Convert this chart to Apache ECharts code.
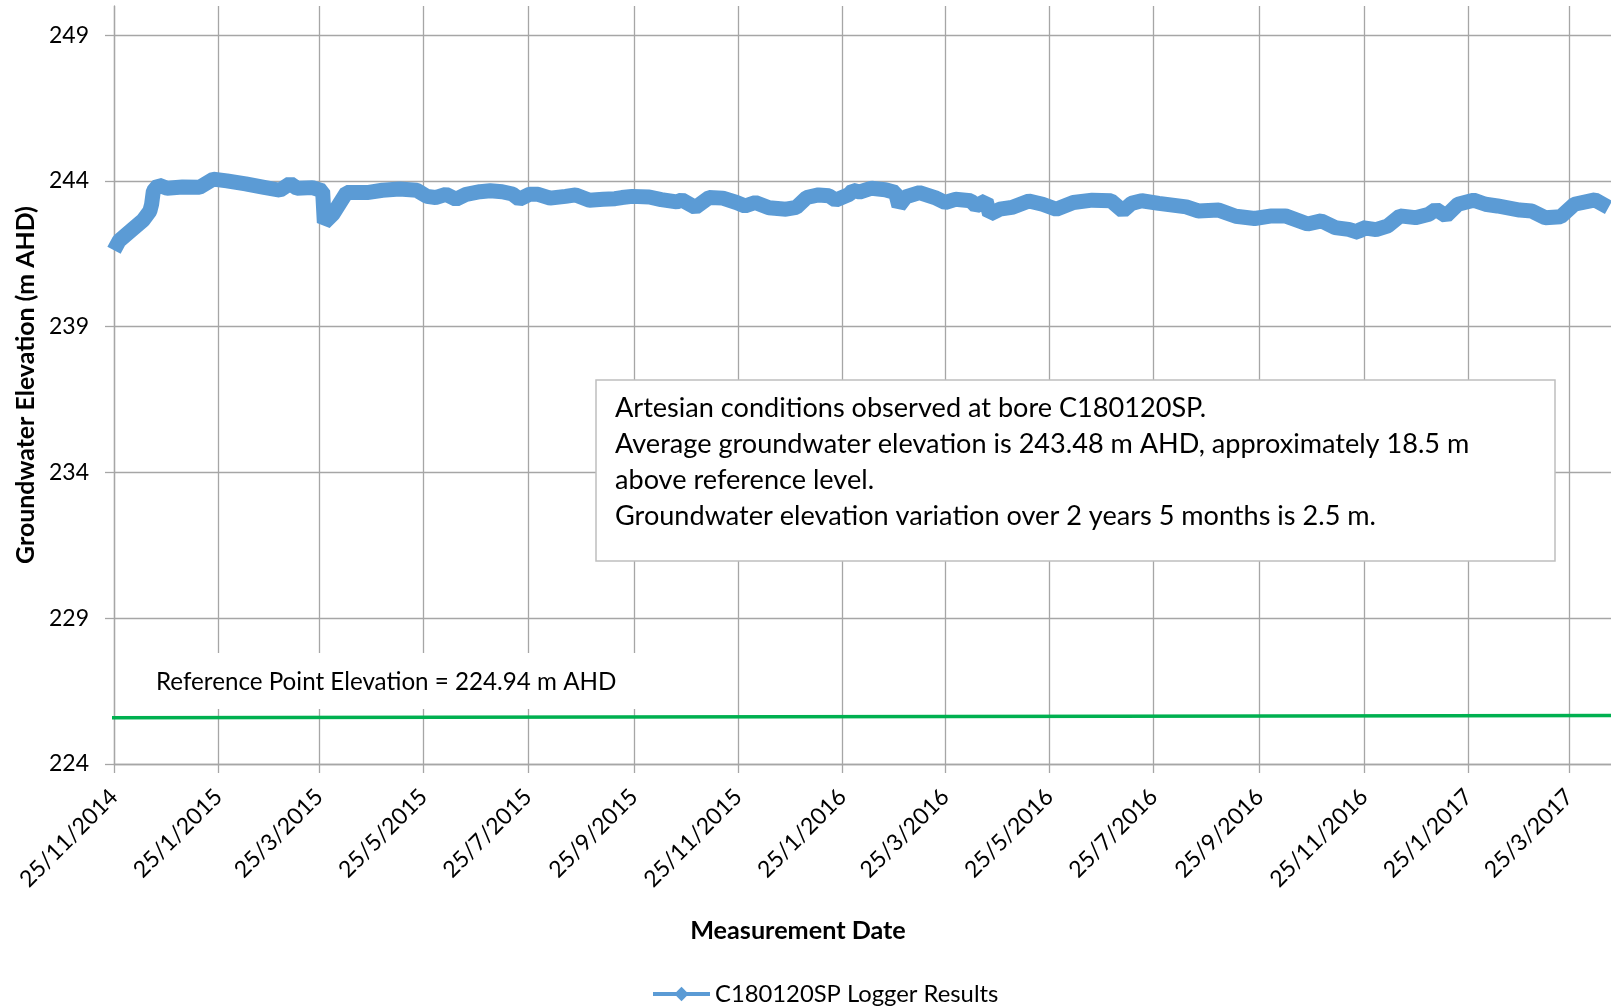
<!DOCTYPE html>
<html><head><meta charset="utf-8">
<script src="https://cdn.jsdelivr.net/npm/echarts@6/dist/echarts.min.js"></script>
<style>html,body{margin:0;padding:0;background:#fff}#c{width:1611px;height:1007px}</style>
</head><body><div id="c"></div>
<script>
const tickDates = ['2014-11-25','2015-01-25','2015-03-25','2015-05-25','2015-07-25','2015-09-25','2015-11-25','2016-01-25','2016-03-25','2016-05-25','2016-07-25','2016-09-25','2016-11-25','2017-01-25','2017-03-25'];
const yTicks = [224, 229, 234, 239, 244, 249];

const loggerDates = ['2014-11-25','2014-11-28','2014-12-06','2014-12-12','2014-12-16','2014-12-17','2014-12-18','2014-12-21','2014-12-26','2015-01-04','2015-01-14','2015-01-22','2015-01-30','2015-02-10','2015-02-20','2015-03-02','2015-03-08','2015-03-12','2015-03-21','2015-03-27','2015-03-28','2015-04-02','2015-04-10','2015-04-22','2015-05-01','2015-05-11','2015-05-21','2015-05-27','2015-06-01','2015-06-07','2015-06-13','2015-06-19','2015-06-27','2015-07-03','2015-07-10','2015-07-16','2015-07-20','2015-07-26','2015-07-31','2015-08-07','2015-08-16','2015-08-22','2015-08-30','2015-09-07','2015-09-14','2015-09-18','2015-09-24','2015-10-04','2015-10-11','2015-10-20','2015-10-23','2015-10-31','2015-11-08','2015-11-16','2015-11-24','2015-11-29','2015-12-05','2015-12-13','2015-12-23','2015-12-29','2016-01-04','2016-01-11','2016-01-17','2016-01-21','2016-01-29','2016-01-31','2016-02-04','2016-02-11','2016-02-19','2016-02-25','2016-02-27','2016-03-02','2016-03-10','2016-03-19','2016-03-25','2016-03-31','2016-04-09','2016-04-12','2016-04-18','2016-04-20','2016-04-26','2016-05-03','2016-05-13','2016-05-21','2016-05-29','2016-06-08','2016-06-19','2016-06-30','2016-07-07','2016-07-12','2016-07-18','2016-07-28','2016-08-13','2016-08-20','2016-09-01','2016-09-11','2016-09-22','2016-10-02','2016-10-10','2016-10-23','2016-10-31','2016-11-08','2016-11-16','2016-11-22','2016-11-24','2016-12-02','2016-12-09','2016-12-16','2016-12-25','2017-01-02','2017-01-06','2017-01-12','2017-01-19','2017-01-28','2017-02-04','2017-02-11','2017-02-24','2017-03-03','2017-03-11','2017-03-20','2017-03-28','2017-04-09','2017-04-17'];
const loggerValues = [241.62,241.95,242.35,242.65,242.97,243.20,243.65,243.86,243.75,243.79,243.78,244.06,244.00,243.90,243.79,243.68,243.91,243.75,243.77,243.66,242.57,242.86,243.60,243.60,243.68,243.72,243.68,243.47,243.43,243.54,243.37,243.54,243.63,243.66,243.63,243.55,243.37,243.54,243.54,243.41,243.47,243.52,243.34,243.37,243.39,243.43,243.47,243.45,243.36,243.28,243.35,243.09,243.43,243.41,243.26,243.14,243.26,243.08,243.03,243.09,243.43,243.52,243.49,243.34,243.54,243.68,243.62,243.75,243.70,243.60,243.14,243.45,243.60,243.43,243.26,243.37,243.32,243.14,243.32,242.86,243.03,243.09,243.31,243.20,243.03,243.26,243.34,243.32,242.97,243.23,243.32,243.23,243.11,242.97,243.00,242.79,242.71,242.80,242.80,242.52,242.63,242.40,242.34,242.23,242.40,242.33,242.46,242.80,242.74,242.86,243.03,242.80,243.20,243.34,243.20,243.14,243.00,242.97,242.74,242.77,243.20,243.35,243.09];

const refDates = ['2014-11-23', '2017-04-19'];
const refValues = [225.59, 225.66];

const axisStart = '2014-11-25';
const axisEnd = '2017-04-18';

const seriesName = 'C180120SP Logger Results';
const yTitle = 'Groundwater Elevation (m AHD)';
const xTitle = 'Measurement Date';
const refLabel = 'Reference Point Elevation = 224.94 m AHD';
const noteLines = [
  'Artesian conditions observed at bore C180120SP.',
  'Average groundwater elevation is 243.48 m AHD, approximately 18.5 m',
  'above reference level.',
  'Groundwater elevation variation over 2 years 5 months is 2.5 m.'
];

function toTs(s) { const p = s.split('-').map(Number); return new Date(p[0], p[1] - 1, p[2]).getTime(); }
function fmt(v) { const d = new Date(v); return d.getDate() + '/' + (d.getMonth() + 1) + '/' + d.getFullYear(); }

const FONT = 'Lato';
const ctx = document.createElement('canvas').getContext('2d');
function fitSize(text, target, weight) {
  ctx.font = (weight || 'normal') + ' 100px ' + FONT;
  return Math.round(1000 * target / ctx.measureText(text).width) / 10;
}

const tickTs = tickDates.map(toTs);
const loggerData = loggerDates.map((d, i) => [toTs(d), loggerValues[i]]);
const refData = refDates.map((d, i) => [toTs(d), refValues[i]]);

const gridColor = '#a6a6a6';
const noteSize = fitSize(noteLines[1], 854);
const refSize = fitSize(refLabel, 460);
const xTitleSize = fitSize(xTitle, 216, 'bold');
const yTitleSize = fitSize(yTitle, 358, 'bold');
const legendSize = fitSize(seriesName, 283);

const chart = echarts.init(document.getElementById('c'), null, { renderer: 'canvas' });
chart.setOption({
  animation: false,
  backgroundColor: '#fff',
  grid: { left: 114, right: 0, top: 6, bottom: 243 },
  xAxis: {
    type: 'value',
    min: toTs(axisStart),
    max: toTs(axisEnd) + 10 * 3600 * 1000,
    axisLine: { show: true, lineStyle: { color: gridColor, width: 1.3 } },
    axisTick: { show: true, customValues: tickTs, length: 9, lineStyle: { color: gridColor, width: 1.3 } },
    axisLabel: { customValues: tickTs, rotate: 45, margin: 29, formatter: fmt, fontFamily: FONT, fontSize: 23, color: '#000' },
    splitLine: { show: true, lineStyle: { color: gridColor, width: 1.3 } }
  },
  yAxis: {
    type: 'value',
    min: 224, max: 250,
    name: yTitle,
    nameLocation: 'middle',
    nameGap: 74,
    nameTextStyle: { fontFamily: FONT, fontWeight: 'bold', fontSize: yTitleSize, color: '#000' },
    axisLine: { show: true, lineStyle: { color: gridColor, width: 1.3 } },
    axisTick: { show: true, customValues: yTicks, length: 9, lineStyle: { color: gridColor, width: 1.3 } },
    axisLabel: { customValues: yTicks, margin: 25, fontFamily: FONT, fontSize: 23, color: '#000' },
    splitLine: { show: true, lineStyle: { color: gridColor, width: 1.3 } }
  },
  legend: {
    data: [seriesName],
    left: 646, top: 977,
    itemWidth: 57, itemHeight: 18, itemGap: 4,
    lineStyle: { width: 4 },
    textStyle: { fontFamily: FONT, fontSize: legendSize, color: '#000' }
  },
  series: [
    {
      name: seriesName, type: 'line', data: loggerData,
      symbol: 'diamond', symbolSize: 13, showSymbol: false,
      lineStyle: { width: 15, color: '#5b9bd5' },
      itemStyle: { color: '#5b9bd5' },
      clip: false, z: 4
    },
    {
      name: 'Reference Point', type: 'line', data: refData,
      symbol: 'none', lineStyle: { width: 3.5, color: '#00b050' },
      clip: false, z: 3
    }
  ],
  graphic: [
    { type: 'rect', z: 10, shape: { x: 116, y: 653, width: 534, height: 56 }, style: { fill: '#fff' } },
    { type: 'text', z: 11, x: 156, y: 682, style: { text: refLabel, fontFamily: FONT, fontSize: refSize, fill: '#000', verticalAlign: 'middle' } },
    { type: 'rect', z: 10, shape: { x: 596, y: 380, width: 959, height: 181 }, style: { fill: '#fff', stroke: '#bfbfbf', lineWidth: 1.5 } },
    { type: 'text', z: 11, x: 615, y: 462, style: { text: noteLines.join('\n'), fontFamily: FONT, fontSize: noteSize, lineHeight: 36, fill: '#000', verticalAlign: 'middle' } },
    { type: 'text', z: 11, x: 798, y: 931, style: { text: xTitle, fontFamily: FONT, fontWeight: 'bold', fontSize: xTitleSize, fill: '#000', align: 'center', verticalAlign: 'middle' } }
  ]
});
</script></body></html>
